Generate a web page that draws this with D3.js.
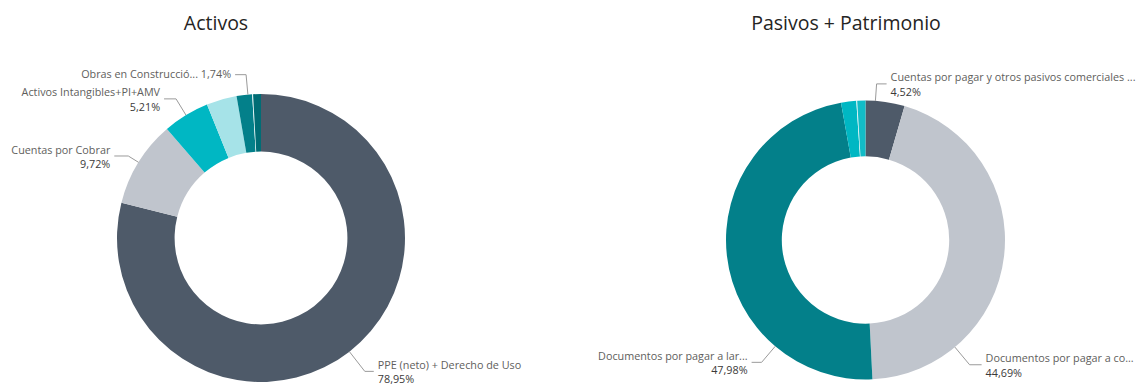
<!DOCTYPE html>
<html>
<head>
<meta charset="utf-8">
<script src="https://cdn.jsdelivr.net/npm/d3@7"></script>
<style>
  html, body { margin: 0; padding: 0; background: #ffffff; }
  svg { display: block; }
  text { font-family: "Open Sans", "Noto Sans", sans-serif; }
</style>
</head>
<body>
<svg id="chart" width="1142" height="385"></svg>
<script>
// Balance composition, shares in percent, slices drawn clockwise from 12 o'clock
const activosCategorias = [
  "PPE (neto) + Derecho de Uso",
  "Cuentas por Cobrar",
  "Activos Intangibles+PI+AMV",
  "Inventarios",
  "Obras en Construcció...",
  "Otros activos",
  "Efectivo y equivalentes"
];
const activosValores = [78.95, 9.72, 5.21, 3.40, 1.74, 0.10, 0.88];
const activosColores = ["#4E5A69", "#C0C5CD", "#00B7C3", "#A6E3E8", "#03808A", "#E2F4F5", "#006D75"];

const pasivosCategorias = [
  "Cuentas por pagar y otros pasivos comerciales ...",
  "Documentos por pagar a co...",
  "Documentos por pagar a lar...",
  "Provisiones",
  "Otros pasivos",
  "Patrimonio"
];
const pasivosValores = [4.52, 44.69, 47.98, 1.76, 0.10, 0.95];
const pasivosColores = ["#4E5A69", "#C0C5CD", "#03808A", "#00B7C3", "#E2F4F5", "#12BCC7"];

// Which slices carry a data label, and how their leader lines run
// frac: where along the slice the leader leaves the ring; ext: radial length; h: horizontal run
const activosEtiquetas = [
  { i: 0, frac: 0.5, ext: 25, h: 9, lines: 2 },
  { i: 1, frac: 0.5, ext: 12, h: 14, lines: 2 },
  { i: 2, frac: 0.5, ext: 19, h: 12, lines: 2 },
  { i: 4, frac: 0.73, ext: 20, h: 11, lines: 1 }
];
const pasivosEtiquetas = [
  { i: 0, frac: 0.25, ext: 17, h: 10, lines: 2 },
  { i: 1, frac: 0.77, ext: 23, h: 12, lines: 2 },
  { i: 2, frac: 0.25, ext: 21, h: 10, lines: 2 }
];

const locale = d3.formatLocale({ decimal: ",", thousands: ".", grouping: [3], currency: ["", ""] });
const fmtPct = v => locale.format(".2f")(v) + "%";

const svg = d3.select("#chart");

function donut(cfg) {
  const g = svg.append("g").attr("transform", `translate(${cfg.cx},${cfg.cy})`);

  svg.append("text")
    .attr("x", cfg.titleX).attr("y", 30)
    .attr("text-anchor", "middle")
    .attr("font-size", 19.5)
    .attr("fill", "#252423")
    .text(cfg.title);

  const data = cfg.cats.map((c, i) => ({ name: c, value: cfg.vals[i], color: cfg.colors[i] }));
  const pie = d3.pie().value(d => d.value).sort(null).startAngle(0).endAngle(2 * Math.PI);
  const arcs = pie(data);
  const arc = d3.arc().innerRadius(cfg.r * cfg.innerRatio).outerRadius(cfg.r);

  g.selectAll("path.slice")
    .data(arcs)
    .join("path")
    .attr("class", "slice")
    .attr("d", arc)
    .attr("fill", d => d.data.color);

  const pt = (a, r) => [Math.sin(a) * r, -Math.cos(a) * r];

  cfg.labels.forEach(l => {
    const a = arcs[l.i];
    const ang = a.startAngle + (a.endAngle - a.startAngle) * l.frac;
    const p0 = pt(ang, cfg.r);
    const p1 = pt(ang, cfg.r + l.ext);
    const right = Math.sin(ang) >= 0;
    const dir = right ? 1 : -1;
    const p2 = [p1[0] + dir * l.h, p1[1]];

    g.append("polyline")
      .attr("points", [p0, p1, p2].map(p => p.join(",")).join(" "))
      .attr("fill", "none")
      .attr("stroke", "#9a9a9a")
      .attr("stroke-width", 1);

    const tx = p2[0] + dir * 4;
    const t = g.append("text")
      .attr("x", tx)
      .attr("y", p2[1])
      .attr("text-anchor", right ? "start" : "end")
      .attr("font-size", 10.8)
      .attr("fill", "#605E5C");

    if (l.lines === 1) {
      t.append("tspan").attr("dy", "0.35em").text(a.data.name + " " + fmtPct(a.data.value));
    } else {
      t.append("tspan").attr("x", tx).attr("dy", -2.5).text(a.data.name);
      t.append("tspan").attr("x", tx).attr("dy", 14.5).attr("fill", "#3b3a39").text(fmtPct(a.data.value));
    }
  });
}

donut({
  title: "Activos", titleX: 216,
  cx: 261, cy: 238, r: 144, innerRatio: 0.6,
  cats: activosCategorias, vals: activosValores, colors: activosColores,
  labels: activosEtiquetas
});

donut({
  title: "Pasivos + Patrimonio", titleX: 846,
  cx: 865.5, cy: 240, r: 139.5, innerRatio: 0.6,
  cats: pasivosCategorias, vals: pasivosValores, colors: pasivosColores,
  labels: pasivosEtiquetas
});
</script>
</body>
</html>
